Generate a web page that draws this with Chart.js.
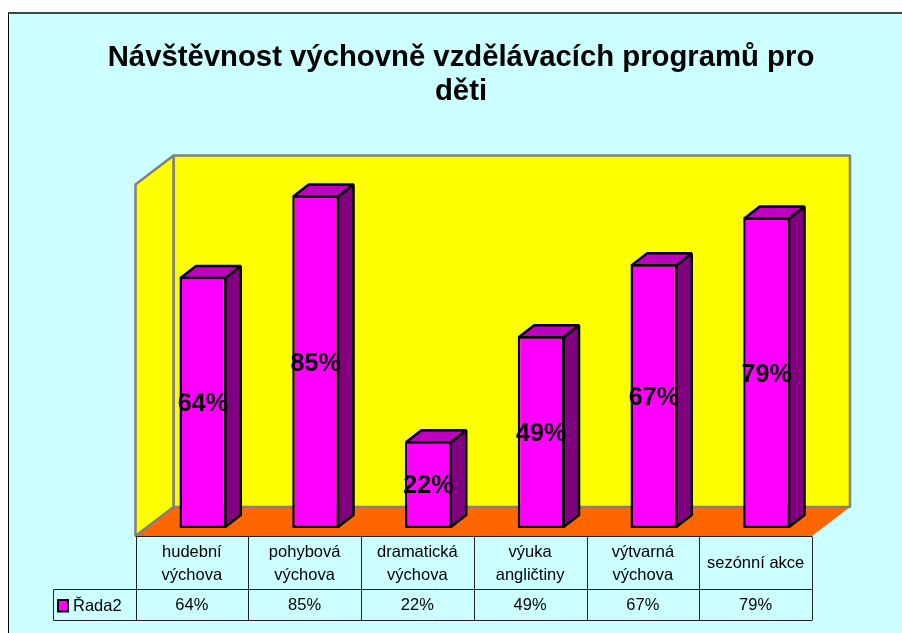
<!DOCTYPE html>
<html lang="cs">
<head>
<meta charset="utf-8">
<title>Návštěvnost</title>
<script src="https://cdn.jsdelivr.net/npm/chart.js@4/dist/chart.umd.js"></script>
<style>
  html, body { margin: 0; background: #fff; }
  canvas { position: absolute; left: 0; top: 0; }
</style>
</head>
<body>
<canvas id="graf" width="902" height="633"></canvas>
<script>
const kategorie = [['hudební', 'výchova'], ['pohybová', 'výchova'], ['dramatická', 'výchova'], ['výuka', 'angličtiny'], ['výtvarná', 'výchova'], 'sezónní akce'];
const hodnoty = [64.2, 85, 22.2, 49, 67.4, 79.4];
const nazevRady = 'Řada2';
const nadpis = ['Návštěvnost výchovně vzdělávacích programů pro', 'děti'];

const pisek = '"Liberation Sans", Arial, sans-serif';
const hloubkaX = 38, hloubkaY = 29;   // hloubka steny
const sloupX = 15.5, sloupY = 12;     // hloubka sloupce
const posunX = 11, posunY = 8;        // sloupce stoji uprostred podlahy

function plocha(ctx, body, vypln, cara, tloustka) {
  ctx.beginPath();
  body.forEach((b, i) => i ? ctx.lineTo(b[0], b[1]) : ctx.moveTo(b[0], b[1]));
  ctx.closePath();
  ctx.fillStyle = vypln;
  ctx.fill();
  if (cara) {
    ctx.strokeStyle = cara;
    ctx.lineWidth = tloustka;
    ctx.lineJoin = 'bevel';
    ctx.stroke();
  }
}

// pozadi, steny a podlaha
const steny = {
  id: 'steny',
  beforeDraw(chart) {
    const ctx = chart.ctx;
    ctx.save();
    ctx.fillStyle = '#CCFFFF';
    ctx.fillRect(8, 13, 894, 620);
    ctx.fillStyle = '#000';
    ctx.fillRect(8, 13, 1, 620);
    ctx.fillStyle = '#444';
    ctx.fillRect(8, 12, 894, 2);

    const x = chart.scales.x, y = chart.scales.y;
    const l = x.left - posunX, r = x.right - posunX;
    const dole = y.getPixelForValue(0) + posunY;
    const nahore = y.top + 0.5 + posunY;
    // podlaha
    plocha(ctx, [[l, dole], [l + hloubkaX, dole - hloubkaY], [r + hloubkaX, dole - hloubkaY], [r, dole]], '#FF6600', null);
    // zadni stena
    plocha(ctx, [[l + hloubkaX, nahore - hloubkaY], [r + hloubkaX, nahore - hloubkaY], [r + hloubkaX, dole - hloubkaY], [l + hloubkaX, dole - hloubkaY]], '#FFFF00', '#808080', 2.5);
    // bocni stena
    plocha(ctx, [[l, nahore], [l + hloubkaX, nahore - hloubkaY], [l + hloubkaX, dole - hloubkaY], [l, dole]], '#FFFF00', '#808080', 2.5);
    ctx.restore();
  }
};

// horni a bocni strana sloupcu, popisky a tabulka
const sloupce3d = {
  id: 'sloupce3d',
  beforeDatasetsDraw(chart) {
    const ctx = chart.ctx;
    ctx.save();
    chart.getDatasetMeta(0).data.forEach(bar => {
      const l = bar.x - bar.width / 2 + 1, r = bar.x + bar.width / 2 - 1, t = bar.y + 1, b = bar.base - 1;
      plocha(ctx, [[r, t], [r + sloupX, t - sloupY], [r + sloupX, b - sloupY], [r, b]], '#800080', '#000', 2.5);
      plocha(ctx, [[l, t], [l + sloupX, t - sloupY], [r + sloupX, t - sloupY], [r, t]], '#C000C0', '#000', 2.5);
    });
    ctx.restore();
  },
  afterDatasetsDraw(chart) {
    const ctx = chart.ctx;
    ctx.save();
    ctx.fillStyle = '#000';
    ctx.textAlign = 'center';
    ctx.textBaseline = 'middle';
    ctx.font = 'bold 25px ' + pisek;
    chart.getDatasetMeta(0).data.forEach((bar, i) => {
      ctx.fillText(Math.round(hodnoty[i]) + '%', bar.x, (bar.y + bar.base) / 2 + 2);
    });
    ctx.restore();
  },
  afterDraw(chart) {
    const ctx = chart.ctx;
    const x = chart.scales.x;
    const l = x.left - posunX, r = x.right - posunX;
    const h1 = 536.5, h2 = 589.5, h3 = 620.5, lg = 53.5;
    const w = (r - l) / hodnoty.length;
    ctx.save();
    ctx.strokeStyle = '#222';
    ctx.lineWidth = 1;
    ctx.beginPath();
    ctx.moveTo(l, h1); ctx.lineTo(r, h1);
    ctx.moveTo(lg, h2); ctx.lineTo(r, h2);
    ctx.moveTo(lg, h3); ctx.lineTo(r, h3);
    ctx.moveTo(lg, h2); ctx.lineTo(lg, h3);
    for (let i = 0; i <= hodnoty.length; i++) {
      const px = Math.round(l + i * w) + 0.5;
      ctx.moveTo(px, h1); ctx.lineTo(px, h3);
    }
    ctx.stroke();

    ctx.fillStyle = '#000';
    ctx.font = '16.5px ' + pisek;
    ctx.textBaseline = 'middle';
    ctx.textAlign = 'center';
    hodnoty.forEach((v, i) => ctx.fillText(Math.round(v) + '%', l + (i + 0.5) * w, 605));
    ctx.textAlign = 'left';
    ctx.fillText(nazevRady, 73, 606);
    ctx.fillStyle = '#FF00FF';
    ctx.strokeStyle = '#000';
    ctx.lineWidth = 2;
    ctx.fillRect(58, 600, 10, 11.5);
    ctx.strokeRect(58, 600, 10, 11.5);
    ctx.restore();
  }
};

new Chart(document.getElementById('graf'), {
  type: 'bar',
  data: {
    labels: kategorie,
    datasets: [{
      label: nazevRady,
      data: hodnoty,
      backgroundColor: '#FF00FF',
      borderColor: '#000',
      borderWidth: 2.5,
      borderSkipped: false,
      barPercentage: 0.415,
      categoryPercentage: 1
    }]
  },
  plugins: [steny, sloupce3d],
  options: {
    responsive: false,
    animation: false,
    layout: { padding: { left: 99, right: 79, top: 41, bottom: 0 } },
    plugins: {
      legend: { display: false },
      tooltip: { enabled: false },
      title: {
        display: true,
        text: nadpis,
        color: '#000',
        font: { family: pisek, size: 29.3, weight: 'bold', lineHeight: 1.16 },
        padding: { top: 0, bottom: 67 }
      }
    },
    scales: {
      x: {
        grid: { display: false, drawTicks: false },
        border: { display: false },
        ticks: {
          color: '#000',
          padding: 24,
          labelOffset: -posunX,
          maxRotation: 0,
          autoSkip: false,
          crossAlign: 'center',
          font: { family: pisek, size: 16.5, lineHeight: 1.4 }
        },
        afterFit(scale) { scale.height = 105; }
      },
      y: {
        min: 0,
        max: 90,
        grid: { display: false },
        border: { display: false },
        ticks: { display: false },
        afterFit(scale) { scale.width = 47.5; }
      }
    }
  }
});
</script>
</body>
</html>
